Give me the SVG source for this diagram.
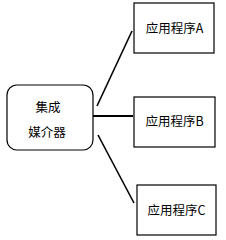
<svg xmlns="http://www.w3.org/2000/svg" width="226" height="240" viewBox="0 0 226 240">
<style>
.box{fill:#fff;stroke:#000;stroke-width:1.2}
.t{font-family:"Noto Sans CJK SC","Liberation Sans",sans-serif;font-size:12.5px;fill:#000;text-anchor:middle}
.c{stroke:#000;fill:none}
</style>
<rect width="226" height="240" fill="#fff"/>
<g id="connectors">
<line class="c" x1="97" y1="106" x2="132" y2="31" stroke-width="1.6"/>
<line class="c" x1="93" y1="116" x2="133" y2="116" stroke-width="2.2"/>
<line class="c" x1="98" y1="135" x2="134" y2="203" stroke-width="1.6"/>
</g>
<g id="mediator">
<rect class="box" x="7" y="85" width="86" height="65" rx="10" ry="10"/>
<text class="t" x="48" y="112">集成</text>
<text class="t" x="47" y="137">媒介器</text>
</g>
<g id="appA">
<rect class="box" x="134" y="3" width="80" height="50"/>
<text class="t" x="174.5" y="33">应用程序A</text>
</g>
<g id="appB">
<rect class="box" x="134" y="97" width="81" height="50"/>
<text class="t" x="174.5" y="126">应用程序B</text>
</g>
<g id="appC">
<rect class="box" x="137" y="185" width="79" height="50"/>
<text class="t" x="176.5" y="215">应用程序C</text>
</g>
</svg>
